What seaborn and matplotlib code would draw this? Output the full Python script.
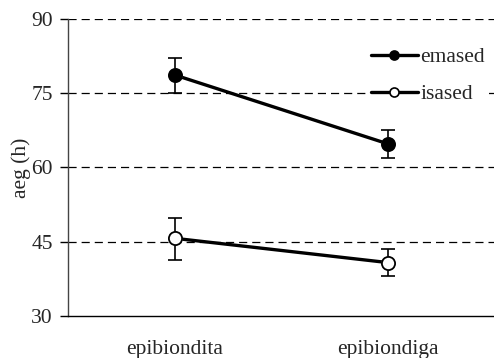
import numpy as np
import pandas as pd
import matplotlib
matplotlib.use("Agg")
import matplotlib.pyplot as plt
import seaborn as sns

# Group means with asymmetric error bars
categories = ["epibiondita", "epibiondiga"]
series_names = ["emased", "isased"]
emased_mean = [78.7, 64.8]
emased_err_low = [3.7, 2.9]
emased_err_high = [3.4, 2.8]
isased_mean = [45.7, 40.8]
isased_err_low = [4.4, 2.7]
isased_err_high = [4.0, 2.7]
y_ticks = [30, 45, 60, 75, 90]

sns.set_theme(style="white")
plt.rcParams["font.family"] = ["Liberation Serif", "DejaVu Serif"]
FS = 15.5

df = pd.DataFrame({
    "x": list(range(len(categories))) * 2,
    "value": emased_mean + isased_mean,
    "group": [series_names[0]] * len(categories) + [series_names[1]] * len(categories),
})

fig = plt.figure(figsize=(4.94, 3.58), dpi=100)
ax = fig.add_axes([0.1377, 0.1173, 0.8623, 0.8297])

# horizontal dashed grid
for yv in y_ticks[1:]:
    ax.axhline(yv, color="black", lw=0.9, ls=(0, (6.5, 4)), zorder=0)

sns.lineplot(data=df, x="x", y="value", hue="group", style="group",
             markers={"emased": "o", "isased": "o"}, dashes=False,
             palette={"emased": "black", "isased": "black"},
             linewidth=2.4, markersize=9.5, ax=ax, zorder=3,
             legend=False)

faces = {"emased": "black", "isased": "white"}
errs = {
    "emased": (emased_mean, emased_err_low, emased_err_high),
    "isased": (isased_mean, isased_err_low, isased_err_high),
}
xs = np.arange(len(categories))
handles = []
for name in series_names:
    m, lo, hi = errs[name]
    ax.errorbar(xs, m, yerr=[lo, hi], fmt="none", ecolor="black",
                elinewidth=1.2, capsize=5, capthick=1.2, zorder=2)
    ax.plot(xs, m, ls="none", marker="o", ms=9.5, mfc=faces[name],
            mec="black", mew=1.3, zorder=4)
    h, = ax.plot([], [], color="black", lw=2.4, marker="o", ms=6.5,
                 mfc=faces[name], mec="black", mew=1.2)
    handles.append(h)

leg = ax.legend(handles, series_names, loc="upper left",
                bbox_to_anchor=(0.70, 0.92), frameon=True, fontsize=FS,
                handlelength=2.2, handletextpad=0.1, labelspacing=0.8,
                borderpad=0.2, borderaxespad=0.0)
leg.get_frame().set_facecolor("white")
leg.get_frame().set_edgecolor("none")
leg.get_frame().set_alpha(1.0)

ax.set_ylim(30, 90)
ax.set_yticks(y_ticks)
ax.set_xlim(-0.5, 1.49)
ax.set_xticks([-0.5, 0.5, 1.5])
ax.set_xticklabels([])
ax.set_xticks(xs, minor=True)
ax.set_xticklabels(categories, minor=True)
ax.tick_params(axis="x", which="major", direction="out", length=5, width=1, color="black")
ax.tick_params(axis="x", which="minor", length=0, pad=17, labelsize=FS)
ax.tick_params(axis="y", direction="out", length=6, width=1, color="black",
               labelsize=FS, pad=5, left=True)
ax.set_xlabel("")
ax.set_ylabel("aeg (h)", fontsize=FS, labelpad=0)

for s in ["top", "right"]:
    ax.spines[s].set_visible(False)
ax.spines["left"].set_color("#444444")
ax.spines["bottom"].set_color("black")
for s in ["left", "bottom"]:
    ax.spines[s].set_linewidth(1)

fig.savefig("out.png", dpi=100)
